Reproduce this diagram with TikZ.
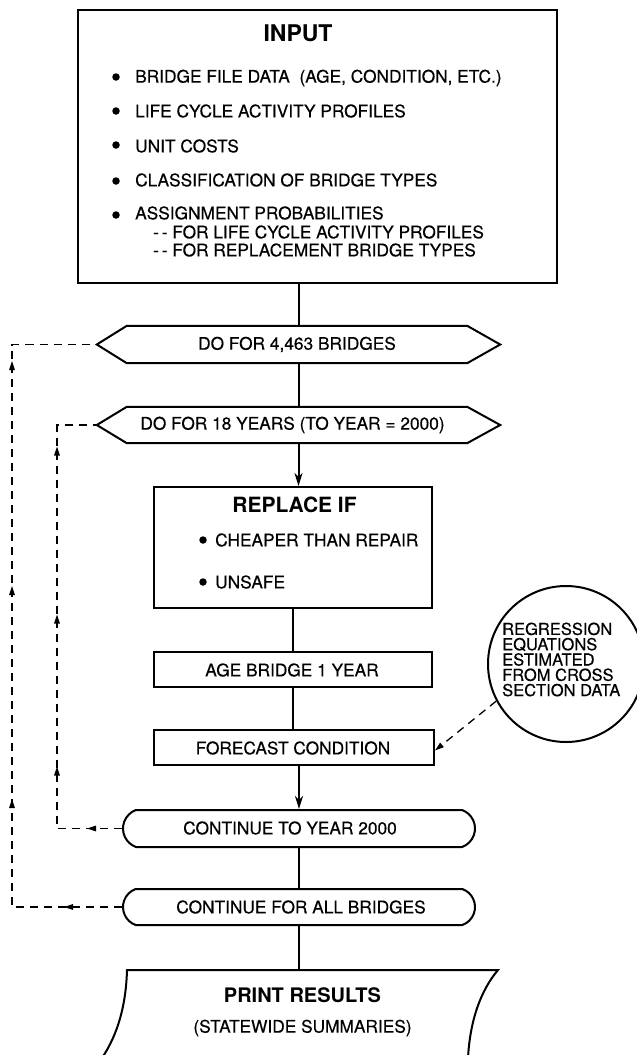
\documentclass[tikz,border=0pt]{standalone}
\usepackage{fontspec}
\setmainfont{TeX Gyre Heros}
\newfontfamily\bodyfont{TeX Gyre Heros}[FakeBold=0.4]
\usetikzlibrary{arrows.meta,shapes.misc,decorations.markings,calc}
\tikzset{
  box/.style={draw, line width=2pt, inner sep=0pt},
  ghost/.style={inner sep=0pt},
  body/.style={inner sep=0pt, font=\bodyfont\fontsize{17.3}{20}\selectfont},
  flow/.style={line width=2pt},
  flowarrow/.style={line width=2pt, -{Stealth[length=13pt,width=8pt,inset=4pt]}},
  loop/.style={line width=1.3pt, dash pattern=on 8pt off 6pt},
  looptip/.tip={Triangle[length=9pt,width=5.5pt]},
  stadium/.style={draw, line width=2pt, rounded rectangle, rounded rectangle arc length=140, inner sep=0pt},
  bul/.style={circle, fill=black, minimum size=7.5pt, inner sep=0pt}
}
\begin{document}
\begin{tikzpicture}[x=1pt,y=-1pt]
\useasboundingbox (0,0) rectangle (637,1055);
% ---------- INPUT box
\node[box, minimum width=479pt, minimum height=273pt] (input) at (317.5,146.5) {};
\node[inner sep=0pt, font=\fontsize{23}{25}\selectfont\bfseries] (inputt) at (298,33) {INPUT};
\node[bul] (b1) at (116,77) {};
\node[body, anchor=west] (l1) at (135,78) {BRIDGE FILE DATA\ \ (AGE, CONDITION, ETC.)};
\node[bul] (b2) at (116,111) {};
\node[body, anchor=west] (l2) at (135,111) {LIFE CYCLE ACTIVITY PROFILES};
\node[bul] (b3) at (116,145) {};
\node[body, anchor=west] (l3) at (135,146) {UNIT COSTS};
\node[bul] (b4) at (116,181) {};
\node[body, anchor=west] (l4) at (135,180) {CLASSIFICATION OF BRIDGE TYPES};
\node[bul] (b5) at (116,215) {};
\node[body, anchor=west] (l5) at (135,213) {ASSIGNMENT PROBABILITIES};
\node[body, anchor=west] (l6) at (153,232) {-\,- FOR LIFE CYCLE ACTIVITY PROFILES};
\node[body, anchor=west] (l7) at (153,250) {-\,- FOR REPLACEMENT BRIDGE TYPES};
% ---------- hexagons
\node[ghost, minimum width=403pt, minimum height=37pt] (hexa) at (298.5,344.5) {};
\draw[flow, line join=miter] (hexa.west) -- ([xshift=30pt]hexa.north west) -- ([xshift=-33pt]hexa.north east) -- (hexa.east) -- ([xshift=-33pt]hexa.south east) -- ([xshift=30pt]hexa.south west) -- cycle;
\node[body] (hexat) at (297,344.5) {DO FOR 4,463 BRIDGES};
\node[ghost, minimum width=403pt, minimum height=36pt] (hexb) at (298.5,425) {};
\draw[flow, line join=miter] (hexb.west) -- ([xshift=30pt]hexb.north west) -- ([xshift=-33pt]hexb.north east) -- (hexb.east) -- ([xshift=-33pt]hexb.south east) -- ([xshift=30pt]hexb.south west) -- cycle;
\node[body] (hexbt) at (292.5,425) {DO FOR 18 YEARS (TO YEAR = 2000)};
% ---------- replace box
\node[box, minimum width=278pt, minimum height=121pt] (repl) at (293,547.5) {};
\node[inner sep=0pt, font=\fontsize{21}{23}\selectfont\bfseries] (replt) at (294.5,505) {REPLACE IF};
\node[bul] (b8) at (203,540) {};
\node[body, anchor=west] (l8) at (215,540) {CHEAPER THAN REPAIR};
\node[bul] (b9) at (203,582) {};
\node[body, anchor=west] (l9) at (215,582) {UNSAFE};
% ---------- age / forecast
\node[box, minimum width=278pt, minimum height=35pt] (age) at (293,669.5) {};
\node[body] (aget) at (292,670) {AGE BRIDGE 1 YEAR};
\node[box, minimum width=280pt, minimum height=35pt] (fc) at (294,747.5) {};
\node[body] (fct) at (293,748) {FORECAST CONDITION};
% ---------- circle
\node[draw, circle, line width=2pt, minimum size=156pt, inner sep=0pt] (circ) at (566,664) {};
\node[inner sep=0pt, anchor=west, align=left, font=\bodyfont\fontsize{16.5}{15.3}\selectfont] (circt) at (502,659.5)
  {REGRESSION\\EQUATIONS\\ESTIMATED\\FROM CROSS\\SECTION DATA};
% ---------- continue boxes
\node[stadium, minimum width=352pt, minimum height=37pt] (c1) at (299,828.5) {};
\node[body] (c1t) at (290,828) {CONTINUE TO YEAR 2000};
\node[stadium, minimum width=352pt, minimum height=36pt] (c2) at (299,907) {};
\node[body] (c2t) at (301,907) {CONTINUE FOR ALL BRIDGES};
% ---------- print results
\coordinate (ptop) at (299,970);
\draw[flow, line join=miter] (102,1058) .. controls (118,1034) and (126,1005) .. (127,970) -- (ptop) -- (498,970) .. controls (481,990) and (470,1020) .. (468,1058);
\node[inner sep=0pt, font=\fontsize{20}{22}\selectfont\bfseries] (prt) at (302.5,995) {PRINT RESULTS};
\node[body] (prs) at (302.5,1028) {(STATEWIDE SUMMARIES)};
% ---------- main connectors
\draw[flow] (input.south -| hexa.north) -- (hexa.north);
\draw[flow] (hexa.south) -- (hexb.north);
\draw[flowarrow] (hexb.south) -- (repl.north -| hexb.south);
\draw[flow] (repl.south) -- (age.north);
\draw[flow] (age.south) -- (age.south |- fc.north);
\draw[flowarrow] (c1.north |- fc.south) -- (c1.north);
\draw[flow] (c1.south) -- (c2.north);
\draw[flow] (c2.south) -- (ptop);
% ---------- dashed loops
\draw[loop, postaction={decorate}, decoration={markings,
   mark=at position 35pt with {\arrow{looptip}},
   mark=at position 127pt with {\arrow{looptip}},
   mark=at position 279pt with {\arrow{looptip}},
   mark=at position 447pt with {\arrow{looptip}}}]
  (c1.west) -- (57,828.5) -- (57,425) -- (hexb.west);
\draw[loop, postaction={decorate}, decoration={markings,
   mark=at position 58pt with {\arrow{looptip}},
   mark=at position 218pt with {\arrow{looptip}},
   mark=at position 431pt with {\arrow{looptip}},
   mark=at position 656pt with {\arrow{looptip}}}]
  (c2.west) -- (12,907) -- (12,344.5) -- (hexa.west);
\draw[loop, -looptip] (circ.208) -- ([yshift=-3pt]fc.east);
\end{tikzpicture}
\end{document}
